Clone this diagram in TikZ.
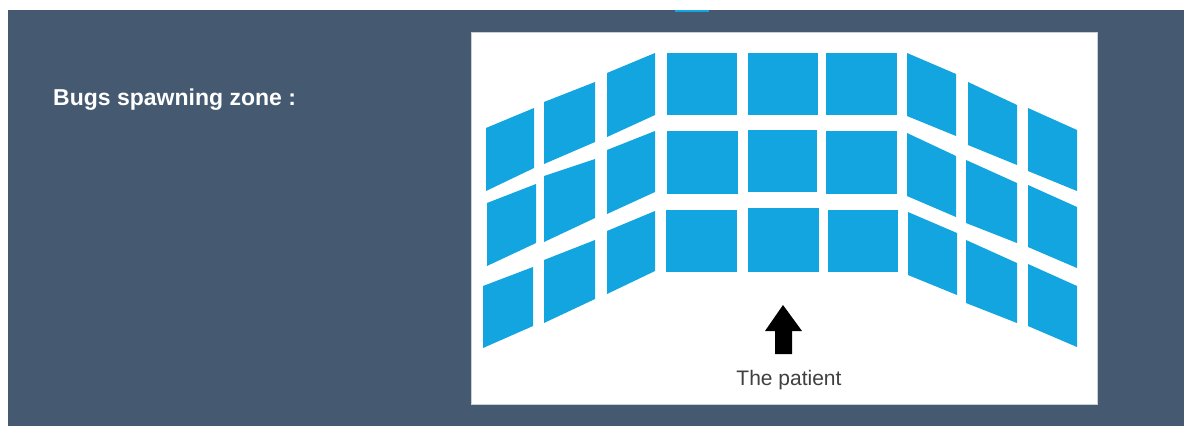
\documentclass[tikz,border=0pt]{standalone}
\usepackage{fontspec}
\setmainfont{Liberation Sans}
\usepackage{tikz}
\usetikzlibrary{positioning}
\definecolor{slate}{HTML}{455A70}
\definecolor{tileblue}{HTML}{12A5E0}
\definecolor{edge}{HTML}{C9CFD6}
\definecolor{cap}{HTML}{404040}
\tikzset{
  panel/.style={fill=slate},
  sheet/.style={fill=white,draw=edge,line width=0.8pt},
  tile/.style={fill=tileblue},
  ttl/.style={font=\fontsize{23}{27}\selectfont\bfseries,text=white,anchor=base west,inner sep=0pt},
  lbl/.style={font=\fontsize{21}{25}\selectfont,text=cap,anchor=base,inner sep=0pt}}

\begin{document}
\begin{tikzpicture}[x=1pt,y=-1pt]
\useasboundingbox (0,0) rectangle (1184,426);
\fill[panel] (8,10) rectangle (1184,426);
\fill[tile] (675,10) rectangle (709,11.5);
\node[ttl] (title) at (53,105) {Bugs spawning zone :};
\draw[sheet] (471,32) rectangle (1097,404);
% left wing
\fill[tile] (486,128) -- (534,108) -- (534,168) -- (486,191) -- cycle;
\fill[tile] (487,203) -- (536,184) -- (536,243) -- (487,266) -- cycle;
\fill[tile] (483,286) -- (533,267) -- (533,326) -- (483,348) -- cycle;
\fill[tile] (544,102) -- (595,82) -- (595,142) -- (544,164) -- cycle;
\fill[tile] (544,176) -- (595,159) -- (595,218) -- (544,242) -- cycle;
\fill[tile] (544,260) -- (595,240) -- (595,299) -- (544,323) -- cycle;
\fill[tile] (607,73) -- (655,53) -- (655,115) -- (607,137) -- cycle;
\fill[tile] (607,150) -- (655,131) -- (655,192) -- (607,214) -- cycle;
\fill[tile] (607,231) -- (655,211) -- (655,271) -- (607,294) -- cycle;
% middle
\fill[tile] (667,53) rectangle (737,115);
\fill[tile] (748,53) rectangle (818,115);
\fill[tile] (826,53) rectangle (897,115);
\fill[tile] (667,131) rectangle (738,194);
\fill[tile] (748,130) rectangle (817,192);
\fill[tile] (826,131) rectangle (897,194);
\fill[tile] (666,210) rectangle (737,272);
\fill[tile] (748,208) rectangle (819,272);
\fill[tile] (828,210) rectangle (898,272);
% right wing
\fill[tile] (907,53) -- (956,74) -- (956,136) -- (907,116) -- cycle;
\fill[tile] (907,133) -- (956,156) -- (956,217) -- (907,196) -- cycle;
\fill[tile] (908,212) -- (957,233) -- (957,295) -- (908,275) -- cycle;
\fill[tile] (968,82) -- (1017,105) -- (1017,165) -- (968,145) -- cycle;
\fill[tile] (966,160) -- (1017,183) -- (1017,243) -- (966,223) -- cycle;
\fill[tile] (966,240) -- (1017,263) -- (1017,323) -- (966,303) -- cycle;
\fill[tile] (1028,108) -- (1077,130) -- (1077,191) -- (1028,171) -- cycle;
\fill[tile] (1028,185) -- (1077,207) -- (1077,268) -- (1028,247) -- cycle;
\fill[tile] (1028,264) -- (1077,286) -- (1077,347) -- (1028,326) -- cycle;
% patient
\node[lbl] (patient) at (789,385) {The patient};
\fill (783,305) -- (802,331) -- (792,331) -- (792,354) -- (775,354) -- (775,331) -- (765,331) -- cycle;
\end{tikzpicture}
\end{document}
